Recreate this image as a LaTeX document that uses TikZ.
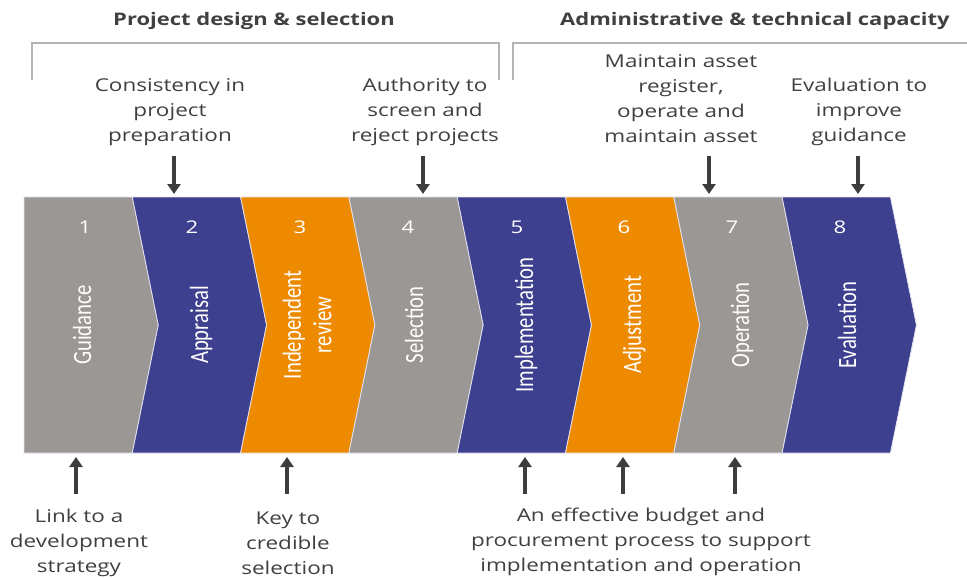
\documentclass[tikz,border=0pt]{standalone}
\usepackage{fontspec}
\setmainfont{Open Sans}[FakeStretch=1.27]
\newfontfamily\stepfont{Carlito}
\usetikzlibrary{arrows.meta}

\definecolor{stepgray}{HTML}{9B9794}
\definecolor{stepnavy}{HTML}{3D3F8F}
\definecolor{steporange}{HTML}{EE8A00}
\definecolor{inkgray}{HTML}{404040}
\definecolor{bracegray}{HTML}{B4B4B4}
\newcommand\steptext[1]{\scalebox{1}[1.27]{\begin{tabular}{@{}c@{}}#1\end{tabular}}}

\begin{document}
\begin{tikzpicture}[x=1pt,y=-1pt,
    chev/.style={draw=white!85!stepnavy,line width=0.8pt},
    num/.style={text=white,font=\fontsize{17.5}{20}\selectfont},
    phase/.style={text=white,rotate=90,inner sep=0pt,font=\stepfont\fontsize{20.7}{24}\selectfont},
    note/.style={text=inkgray,align=center,inner sep=0pt,font=\fontsize{17.7}{25}\selectfont},
    head/.style={text=inkgray,inner sep=0pt,font=\bfseries\fontsize{17.3}{21}\selectfont},
    brace/.style={draw=bracegray,line width=1.3pt},
    pointer/.style={draw=inkgray!95!black,line width=3.4pt,-{Triangle[width=13pt,length=10pt]}}]
      \useasboundingbox (0,0) rectangle (967,578);

      % chevrons
      \path[chev,fill=stepgray]   (24,197)    -- ++(108.3,0) -- ++(26,128) -- ++(-26,128) -- ++(-108.3,0) -- cycle;
      \path[chev,fill=stepnavy]   (132.3,197) -- ++(108.3,0) -- ++(26,128) -- ++(-26,128) -- ++(-108.3,0) -- ++(26,-128) -- cycle;
      \path[chev,fill=steporange] (240.6,197) -- ++(108.3,0) -- ++(26,128) -- ++(-26,128) -- ++(-108.3,0) -- ++(26,-128) -- cycle;
      \path[chev,fill=stepgray]   (348.9,197) -- ++(108.3,0) -- ++(26,128) -- ++(-26,128) -- ++(-108.3,0) -- ++(26,-128) -- cycle;
      \path[chev,fill=stepnavy]   (457.2,197) -- ++(108.3,0) -- ++(26,128) -- ++(-26,128) -- ++(-108.3,0) -- ++(26,-128) -- cycle;
      \path[chev,fill=steporange] (565.5,197) -- ++(108.3,0) -- ++(26,128) -- ++(-26,128) -- ++(-108.3,0) -- ++(26,-128) -- cycle;
      \path[chev,fill=stepgray]   (673.8,197) -- ++(108.3,0) -- ++(26,128) -- ++(-26,128) -- ++(-108.3,0) -- ++(26,-128) -- cycle;
      \path[chev,fill=stepnavy]   (782.1,197) -- ++(108.3,0) -- ++(26,128) -- ++(-26,128) -- ++(-108.3,0) -- ++(26,-128) -- cycle;

      \coordinate (bandtop) at (0,194);
      \coordinate (bandbot) at (0,457);

      % step numbers and names
      \node[num]   (n1) at (85,227)  {1};
      \node[num]   (n2) at (192,227) {2};
      \node[num]   (n3) at (300,227) {3};
      \node[num]   (n4) at (408,227) {4};
      \node[num]   (n5) at (517,227) {5};
      \node[num]   (n6) at (624,227) {6};
      \node[num]   (n7) at (732,227) {7};
      \node[num]   (n8) at (840,227) {8};

      \node[phase] (guid) at (85,325)  {\steptext{Guidance}};
      \node[phase] (appr) at (202,325) {\steptext{Appraisal}};
      \node[phase] (revw) at (310,325) {\steptext{Independent\\review}};
      \node[phase] (selc) at (417,325) {\steptext{Selection}};
      \node[phase] (impl) at (527,325) {\steptext{Implementation}};
      \node[phase] (adjs) at (635,325) {\steptext{Adjustment}};
      \node[phase] (oper) at (743,325) {\steptext{Operation}};
      \node[phase] (eval) at (850,325) {\steptext{Evaluation}};

      % headings and brackets
      \node[head] (design) at (254,21) {Project design \& selection};
      \node[head] (admin)  at (755,21) {Administrative \& technical capacity};
      \draw[brace] (32,80) -- (32,43) -- (499,43) -- (499,80);
      \draw[brace] (513,80) -- (513,43) -- (967,43);

      % notes above
      \node[note] (cons)  at (170,112) {Consistency in\\project\\preparation};
      \node[note] (auth)  at (425,112) {Authority to\\screen and\\reject projects};
      \node[note] (asset) at (681,99)  {Maintain asset\\register,\\operate and\\maintain asset};
      \node[note] (impr)  at (859,112) {Evaluation to\\improve\\guidance};

      \coordinate (t1) at (174,156);
      \coordinate (t2) at (423,156);
      \coordinate (t3) at (709,156);
      \coordinate (t4) at (858,156);
      \draw[pointer] (t1) -- (t1 |- bandtop);
      \draw[pointer] (t2) -- (t2 |- bandtop);
      \draw[pointer] (t3) -- (t3 |- bandtop);
      \draw[pointer] (t4) -- (t4 |- bandtop);

      % notes below
      \node[note] (link)   at (79,543)  {Link to a\\development\\strategy};
      \node[note] (key)    at (288,543) {Key to\\credible\\selection};
      \node[note] (budget) at (641,542) {An effective budget and\\procurement process to support\\implementation and operation};

      \coordinate (b1) at (76,494);
      \coordinate (b2) at (287,494);
      \coordinate (b3) at (525,494);
      \coordinate (b4) at (623,494);
      \coordinate (b5) at (735,494);
      \draw[pointer] (b1) -- (b1 |- bandbot);
      \draw[pointer] (b2) -- (b2 |- bandbot);
      \draw[pointer] (b3) -- (b3 |- bandbot);
      \draw[pointer] (b4) -- (b4 |- bandbot);
      \draw[pointer] (b5) -- (b5 |- bandbot);
\end{tikzpicture}
\end{document}
